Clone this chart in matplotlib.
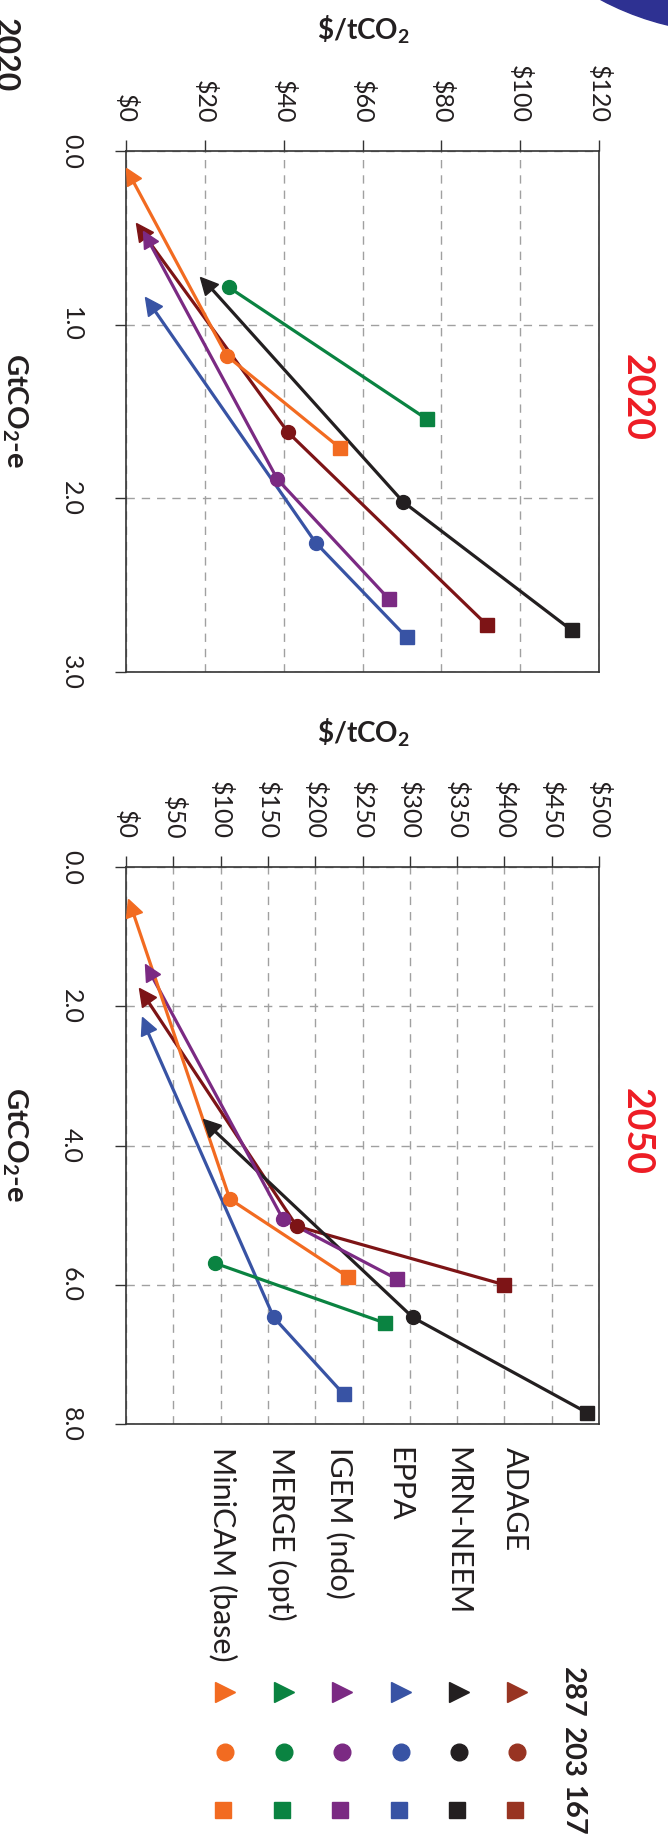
import numpy as np
import matplotlib
matplotlib.use("Agg")
import matplotlib.pyplot as plt
from matplotlib.markers import MarkerStyle
from matplotlib.transforms import Affine2D
from matplotlib.patches import Circle

plt.rcParams['font.family'] = ['Lato', 'DejaVu Sans']
plt.rcParams['mathtext.default'] = 'regular'

# models, plot colours and legend colours
models = ["ADAGE", "MRN-NEEM", "EPPA", "IGEM (ndo)", "MERGE (opt)", "MiniCAM (base)"]
colors = ["#7d1416", "#231f20", "#3853a4", "#7b2a83", "#0a8341", "#f26b21"]
legend_colors = ["#983422", "#231f20", "#3853a4", "#7b2a83", "#0a8341", "#f26b21"]
scenarios = ["287", "203", "167"]

# each model: [287 (triangle), 203 (circle), 167 (square)]
price_2020 = [[3.7, 41.1, 91.6],
              [20.4, 70.3, 113.1],
              [6.1, 48.1, 71.2],
              [5.3, 38.4, 66.7],
              [np.nan, 26.1, 76.4],
              [1.0, 25.6, 54.3]]
gt_2020 = [[0.455, 1.62, 2.73],
           [0.76, 2.02, 2.76],
           [0.88, 2.255, 2.80],
           [0.50, 1.89, 2.58],
           [np.nan, 0.785, 1.545],
           [0.14, 1.18, 1.71]]

price_2050 = [[18.9, 180.5, 400],
              [87.3, 303.3, 487.8],
              [19.8, 156.2, 230],
              [24.3, 166, 286.7],
              [np.nan, 94, 274],
              [5.4, 109.8, 234.9]]
gt_2050 = [[1.84, 5.16, 6.00],
           [3.71, 6.47, 7.84],
           [2.27, 6.47, 7.57],
           [1.49, 5.06, 5.92],
           [np.nan, 5.69, 6.55],
           [0.57, 4.77, 5.89]]

xticks_2020 = [0, 20, 40, 60, 80, 100, 120]
yticks_2020 = [0, 1, 2, 3]
xticks_2050 = [0, 50, 100, 150, 200, 250, 300, 350, 400, 450, 500]
yticks_2050 = [0, 2, 4, 6, 8]

W, H = 668, 1834
fig = plt.figure(figsize=(W / 100, H / 100), dpi=100)

def fx(px):
    return px / W

def fy(py):
    return 1 - py / H

def txt(x, y, s, **kw):
    fig.text(fx(x), fy(y), s, **kw)

def panel(top, bottom, xticks, yticks, prices, gts):
    ax = fig.add_axes([fx(126), fy(bottom), fx(599) - fx(126), fy(top) - fy(bottom)])
    ax.set_xlim(xticks[0], xticks[-1])
    ax.set_ylim(yticks[-1], yticks[0])
    ax.xaxis.tick_top()
    ax.set_xticks(xticks)
    ax.set_xticklabels([r"\$%d" % v for v in xticks])
    ax.set_yticks(yticks)
    ax.set_yticklabels(["%.1f" % v for v in yticks])
    ax.tick_params(axis='x', direction='out', length=8, width=1, color='#333333',
                   labelrotation=270, pad=12, labelsize=18, labelcolor='#231f20')
    ax.tick_params(axis='y', direction='out', length=8, width=1, color='#333333',
                   labelrotation=270, pad=23, labelsize=18, labelcolor='#231f20')
    for lab in ax.get_yticklabels():
        lab.set_va('center')
    for sp in ax.spines.values():
        sp.set_color('#333333')
        sp.set_linewidth(1.2)
    ax.grid(True, linestyle=(0, (6, 5)), color='#a0a0a0', linewidth=1)
    ax.set_axisbelow(True)

    for i in range(len(models)):
        p = prices[i]
        g = gts[i]
        c = colors[i]
        ax.plot(p, g, color=c, lw=2.3, zorder=3, clip_on=False)
        ax.plot(p[1], g[1], 'o', color=c, ms=10, zorder=4, clip_on=False)
        ax.plot(p[2], g[2], 's', color=c, ms=10, zorder=4, clip_on=False)
        if not np.isnan(p[0]):
            # arrow-like triangle pointing back along the line
            a = ax.transData.transform((p[0], g[0]))
            b = ax.transData.transform((p[1], g[1]))
            ang = np.degrees(np.arctan2(a[1] - b[1], a[0] - b[0]))
            m = MarkerStyle('^', transform=Affine2D().rotate_deg(ang - 90))
            ax.plot(p[0], g[0], marker=m, color=c, ms=12, zorder=4, clip_on=False,
                    linestyle='none')
    return ax

panel(151, 672, xticks_2020, yticks_2020, price_2020, gt_2020)
panel(867, 1424, xticks_2050, yticks_2050, price_2050, gt_2050)

# axis titles
for y in [30, 733]:
    txt(363, y, r"\$/tCO$_2$", ha='center', va='center', fontsize=20,
        fontweight='bold', color='#231f20')
for y in [411, 1145]:
    txt(15, y, r"GtCO$_2$-e", ha='center', va='center', rotation=270,
        fontsize=21, fontweight='bold', color='#231f20')

txt(637, 398, "2020", ha='center', va='center', rotation=270, fontsize=27,
    fontweight='bold', color='#ed1c24')
txt(637, 1132, "2050", ha='center', va='center', rotation=270, fontsize=27,
    fontweight='bold', color='#ed1c24')
txt(4, 55, "2020", ha='center', va='center', rotation=270, fontsize=23,
    fontweight='bold', color='#231f20')

# legend, drawn in pixel space
ov = fig.add_axes([0, 0, 1, 1])
ov.set_xlim(0, W)
ov.set_ylim(H, 0)
ov.axis('off')
ov.add_patch(Circle((734, -250), 283, color='#2e3192', clip_on=False))
ov.set_zorder(5)
ov.patch.set_alpha(0)

col_x = [515, 457, 399, 340, 282, 223]
for i, name in enumerate(models):
    txt(col_x[i], 1447, name, ha='center', va='top', rotation=270,
        fontsize=22, color='#231f20')
    c = legend_colors[i]
    ov.plot(col_x[i] + 2, 1692, '>', color=c, ms=14, clip_on=False)
    ov.plot(col_x[i] + 2, 1752, 'o', color=c, ms=12, clip_on=False)
    ov.plot(col_x[i], 1810, 's', color=c, ms=12, clip_on=False)

for s, y in zip(scenarios, [1692, 1752, 1810]):
    txt(572, y, s, ha='center', va='center', rotation=270, fontsize=21,
        fontweight='bold', color='#231f20')

fig.savefig("out.png", dpi=100)
